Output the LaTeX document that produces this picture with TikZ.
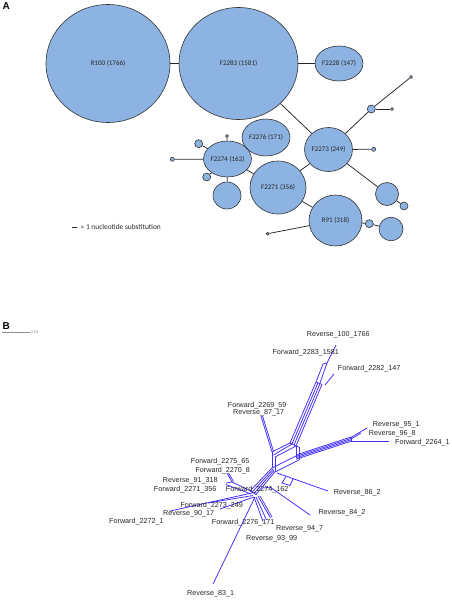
\documentclass[tikz,border=0pt]{standalone}
\usepackage{fontspec}
\setmainfont{Carlito}
\newfontfamily\arialf{Liberation Sans}
\usetikzlibrary{shapes.geometric}
\definecolor{hapfill}{RGB}{141,179,226}
\definecolor{netblue}{RGB}{70,50,255}
\tikzset{
  hap/.style={ellipse, draw=black!80, line width=0.6pt, fill=hapfill, inner sep=0pt,
     font=\fontsize{7}{7}\selectfont, text=black!85},
  link/.style={draw=black!85, line width=0.75pt},
  net/.style={draw=netblue, line width=0.8pt},
  tx/.style={font=\arialf\fontsize{7.2}{8}\selectfont, text=black!85, anchor=west, inner sep=0pt},
}
\begin{document}
\begin{tikzpicture}[x=1pt,y=-1pt]
\useasboundingbox (0,0) rectangle (452,600);
% ---------- Panel A ----------
\node[font=\arialf\bfseries\fontsize{10}{10}\selectfont, anchor=north west, inner sep=0pt] (labA) at (2.5,2.5) {A};
\node[hap, minimum width=124pt, minimum height=118pt] (r100) at (108,63.5) {R100 (1766)};
\node[hap, minimum width=119pt, minimum height=112pt] (f2283) at (238.5,63.5) {F2283 (1581)};
\node[hap, minimum width=36pt, minimum height=35pt] (f2228) at (339,63.5) {F2228 (147)};
\node[hap, minimum width=47pt, minimum height=44pt] (f2273) at (328.5,149.5) {F2273 (249)};
\node[hap, minimum width=38pt, minimum height=37pt] (f2276) at (266,137.5) {F2276 (171)};
\node[hap, minimum width=37pt, minimum height=36pt] (f2274) at (227.5,159) {F2274 (162)};
\node[hap, minimum width=56pt, minimum height=53pt] (f2271) at (278,187.5) {F2271 (356)};
\node[hap, minimum width=53pt, minimum height=51pt] (r91) at (335.5,220.5) {R91 (318)};
\node[hap, minimum width=28pt, minimum height=27pt] (u1) at (227,195.5) {};
\node[hap, minimum width=23pt, minimum height=23pt] (u2) at (387,194) {};
\node[hap, minimum width=8pt, minimum height=8pt] (u3) at (404,206) {};
\node[hap, minimum width=24pt, minimum height=23.5pt] (u4) at (391,229) {};
\node[hap, minimum width=8pt, minimum height=8pt] (u5) at (369.3,223.7) {};
\node[hap, minimum width=3pt, minimum height=3pt] (u6) at (267.7,233.7) {};
\node[hap, minimum width=8pt, minimum height=8pt] (u7) at (371.3,109) {};
\node[hap, minimum width=3pt, minimum height=3pt] (u8) at (411,77) {};
\node[hap, minimum width=3pt, minimum height=3pt] (u9) at (392,109) {};
\node[hap, minimum width=4pt, minimum height=4pt] (u10) at (373.7,149.3) {};
\node[hap, minimum width=8pt, minimum height=8pt] (u11) at (198.7,143.7) {};
\node[hap, minimum width=3pt, minimum height=3pt] (u12) at (227,136) {};
\node[hap, minimum width=4pt, minimum height=4pt] (u13) at (172.3,159.3) {};
\node[hap, minimum width=8pt, minimum height=8pt] (u14) at (206.7,177) {};
\draw[link] (r100) -- (f2283);
\draw[link] (f2283) -- (f2228);
\draw[link] (f2283) -- (f2273);
\draw[link] (f2273) -- (f2271);
\draw[link] (f2271) -- (r91);
\draw[link] (f2274) -- (f2271);
\draw[link] (f2274) -- (f2276);
\draw[link] (f2274) -- (u1);
\draw[link] (f2274) -- (u11);
\draw[link] (f2274) -- (u12);
\draw[link] (f2274) -- (u13);
\draw[link] (f2274) -- (u14);
\draw[link] (f2273) -- (u7);
\draw[link] (u7) -- (u8);
\draw[link] (u7) -- (u9);
\draw[link] (f2273) -- (u10);
\draw[link] (f2273) -- (u2);
\draw[link] (u2) -- (u3);
\draw[link] (r91) -- (u5);
\draw[link] (u5) -- (u4);
\draw[link] (r91) -- (u6);
\coordinate (lg1) at (72,227);
\coordinate (lg2) at (77,227);
\draw[link, line width=0.9pt] (lg1) -- (lg2);
\node[font=\fontsize{7.4}{8}\selectfont, anchor=west, inner sep=0pt, text=black!85] (legend) at (80.5,227.3) {= 1 nucleotide substitution};
% ---------- Panel B ----------
\node[font=\arialf\bfseries\fontsize{10}{10}\selectfont, anchor=north west, inner sep=0pt] (labB) at (2.5,322.5) {B};
\coordinate (sb1) at (2,332);
\coordinate (sb2) at (30,332);
\draw[black!45, line width=0.5pt] (sb1) -- (sb2);
\node[font=\arialf\itshape\fontsize{4}{4}\selectfont, text=black!45, anchor=west, inner sep=0pt] (sbl) at (30.5,332.5) {0.01};
% network lines
\draw[net] (336,345) -- (327,363) -- (320,383);
\draw[net] (327,363) -- (323,364) -- (316,382);
\draw[net] (325,385) -- (334,374);
\foreach \d in {0,2,4,6} {
  \draw[net] (316+\d,382+\d*0.4) -- (290+\d,443+\d*0.5);
}
\draw[net] (316,382) -- (322,384.4);
\draw[net] (290,443) -- (296,446);
% Forward_2269 leaf
\draw[net] (261,416) -- (272,452);
\draw[net] (262.5,416) -- (273.5,451.5);
% box Q-P
\draw[net] (272,452) -- (290,443);
\draw[net] (273.5,455) -- (292,444);
\draw[net] (275,457) -- (296,446);
\draw[net] (272,452) -- (272,468);
\draw[net] (275,457) -- (275,472);
\draw[net] (296,446) -- (296,458);
\draw[net] (299,447) -- (299,460);
\draw[net] (296,446) -- (299,447);
\draw[net] (272,468) -- (296,456);
\draw[net] (275,472) -- (299,460);
% Reverse_95 bundle
\foreach \d in {0,1.4,2.8,4.2} {
  \draw[net] (296,455+\d) -- (351,437+\d);
}
\draw[net] (351,437) -- (351,441.2);
\draw[net] (351,437.5) -- (367,428);
\draw[net] (351,439) -- (361,433);
\draw[net] (351,441) -- (389,441);
% center bundle
\foreach \d in {0,2,4,6} {
  \draw[net] (272+\d*0.5,468+\d*0.6) -- (250+\d,491+\d*0.6);
}
\draw[net] (250,491) -- (256,494.6);
% Reverse_86 leaf
\draw[net] (277,473) -- (328,491);
\draw[net] (286,476.5) -- (282,483) -- (290,485.5) -- (293,479);
% Reverse_84 leaf
\draw[net] (270,487) -- (310,515);
\draw[net] (264,488) -- (270,487);
% Forward_2272 leaf
\draw[net] (170,511) -- (252,493);
\draw[net] (208,503) -- (253,495.5);
% Reverse_90 leaf
\draw[net] (220,509) -- (254,497);
% Forward_2275 / 2270 leaf
\draw[net] (227,473) -- (232,482) -- (253,492);
\draw[net] (228.5,473) -- (233.5,481.5);
\draw[net] (232,482) -- (226,483);
% Reverse_91 leaf
\draw[net] (226,484.5) -- (251,494);
% Reverse_83 leaf
\draw[net] (213,584) -- (255,497);
% Forward_2276 / Reverse_94 / Reverse_93
\draw[net] (254,497) -- (263,521.5);
\draw[net] (256,497) -- (266.5,520);
\draw[net] (258,496) -- (270.5,518);
\draw[net] (260,496) -- (272,517);
% labels
\node[tx] (t1) at (306.7,334.7) {Reverse\_100\_1766};
\node[tx] (t2) at (272.3,352.3) {Forward\_2283\_1581};
\node[tx] (t3) at (337.7,368.3) {Forward\_2282\_147};
\node[tx] (t4) at (227.7,405.3) {Forward\_2269\_59};
\node[tx] (t5) at (233,413) {Reverse\_87\_17};
\node[tx] (t6) at (372.7,424.7) {Reverse\_95\_1};
\node[tx] (t7) at (368.7,434) {Reverse\_96\_8};
\node[tx] (t8) at (395,442.7) {Forward\_2264\_1};
\node[tx] (t9) at (190.7,461.7) {Forward\_2275\_65};
\node[tx] (t10) at (195.3,470.3) {Forward\_2270\_8};
\node[tx] (t11) at (162.7,481) {Reverse\_91\_318};
\node[tx] (t12) at (153.7,490) {Forward\_2271\_356};
\node[tx] (t13) at (225.7,490) {Forward\_2274\_162};
\node[tx] (t14) at (333.7,493) {Reverse\_86\_2};
\node[tx] (t15) at (180.3,505.7) {Forward\_2273\_249};
\node[tx] (t16) at (163,513.3) {Reverse\_90\_17};
\node[tx] (t17) at (318.3,513) {Reverse\_84\_2};
\node[tx] (t18) at (109,521.7) {Forward\_2272\_1};
\node[tx] (t19) at (211.7,523) {Forward\_2276\_171};
\node[tx] (t20) at (276,529) {Reverse\_94\_7};
\node[tx] (t21) at (246,538.3) {Reverse\_93\_99};
\node[tx] (t22) at (187,594) {Reverse\_83\_1};
\end{tikzpicture}
\end{document}
